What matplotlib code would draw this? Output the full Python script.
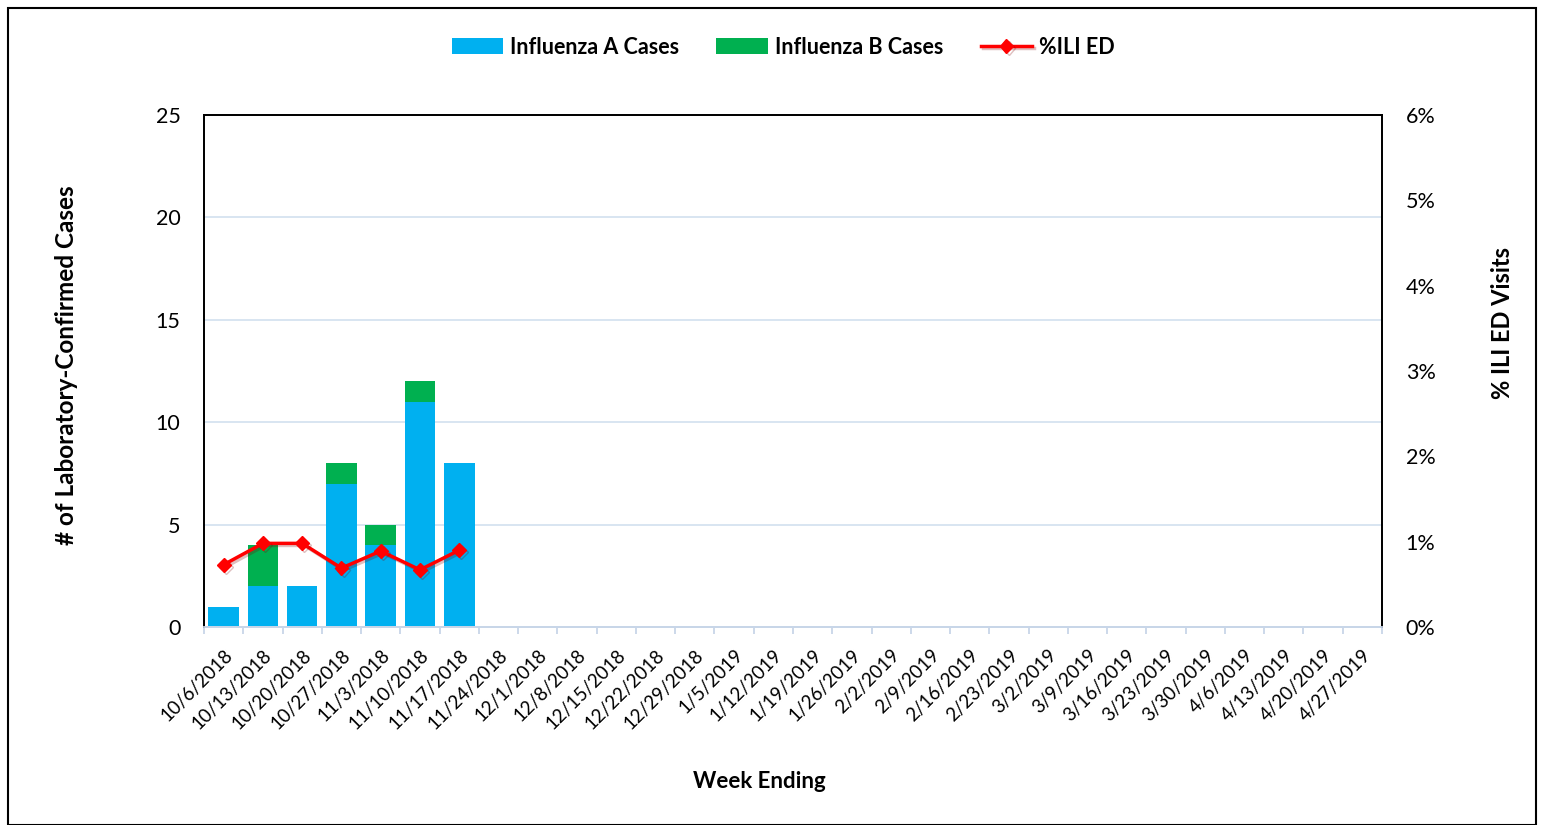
import matplotlib
matplotlib.use("Agg")
import matplotlib.pyplot as plt
import matplotlib.patheffects as pe
from matplotlib.ticker import FuncFormatter, MultipleLocator
from matplotlib.patches import Rectangle
import numpy as np

weeks = ["10/6/2018", "10/13/2018", "10/20/2018", "10/27/2018", "11/3/2018",
         "11/10/2018", "11/17/2018", "11/24/2018", "12/1/2018", "12/8/2018",
         "12/15/2018", "12/22/2018", "12/29/2018", "1/5/2019", "1/12/2019",
         "1/19/2019", "1/26/2019", "2/2/2019", "2/9/2019", "2/16/2019",
         "2/23/2019", "3/2/2019", "3/9/2019", "3/16/2019", "3/23/2019",
         "3/30/2019", "4/6/2019", "4/13/2019", "4/20/2019", "4/27/2019"]
flu_a = [1, 2, 2, 7, 4, 11, 8]
flu_b = [0, 2, 0, 1, 1, 1, 0]
ili_ed = [0.73, 0.98, 0.98, 0.69, 0.89, 0.67, 0.90]

plt.rcParams['font.family'] = ['Lato', 'DejaVu Sans']

fig = plt.figure(figsize=(15.44, 8.25), dpi=100)
ax = fig.add_axes([204/1544, 1-627/825, (1382-204)/1544, (627-115)/825])
ax2 = ax.twinx()

n = len(weeks)
x_all = np.arange(n)
xa = np.arange(len(flu_a))
blue = "#00B0F0"
green = "#00B050"
ax.bar(xa, flu_a, width=0.78, color=blue, label="Influenza A Cases", zorder=2)
ax.bar(xa, flu_b, width=0.78, bottom=flu_a, color=green, label="Influenza B Cases", zorder=2)

ax.set_xlim(-0.5, n - 0.5)
ax.set_ylim(0, 25)
ax.yaxis.set_major_locator(MultipleLocator(5))
ax.grid(axis='y', color="#D6E3F0", linewidth=1.3, zorder=0)
ax.set_axisbelow(True)

ax2.plot(xa, ili_ed, color="#FF0000", linewidth=2.5, marker='D', markersize=7,
         label="%ILI ED", zorder=5,
         path_effects=[pe.SimpleLineShadow(offset=(1.5, -1.5), shadow_color='#800000', alpha=0.25),
                       pe.Normal()])
ax2.set_ylim(0, 6)
ax2.yaxis.set_major_locator(MultipleLocator(1))
ax2.yaxis.set_major_formatter(FuncFormatter(lambda v, p: f"{int(round(v))}%"))
ax2.set_zorder(ax.get_zorder() + 1)
ax2.patch.set_visible(False)

ax.set_xticks(x_all)
ax.set_xticklabels(weeks, rotation=45, ha='right', rotation_mode='anchor', fontsize=13.5)
ax.set_xticks(np.arange(-0.5, n, 1), minor=True)
ax.tick_params(axis='x', which='major', length=0, pad=14)
ax.tick_params(axis='x', which='minor', length=5, color="#C8D6E8", width=1.3)
ax.tick_params(axis='y', length=0, labelsize=15.5, pad=17)
ax2.tick_params(axis='y', length=0, labelsize=15.5, pad=17)

for a in (ax, ax2):
    a.spines['left'].set_color('black')
    a.spines['top'].set_color('black')
    a.spines['right'].set_color('black')
    a.spines['bottom'].set_color('#C8D6E8')
    for s in ('left', 'top', 'right'):
        a.spines[s].set_linewidth(1.3)
    a.spines['bottom'].set_linewidth(1.3)

ax.set_ylabel("# of Laboratory-Confirmed Cases", fontsize=17.5, fontweight='bold')
ax.yaxis.set_label_coords(67/1544, 1 - 365/825, transform=fig.transFigure)
ax2.set_ylabel("% ILI ED Visits", fontsize=17, fontweight='bold')
ax2.yaxis.set_label_coords(1503/1544, 1 - 323/825, transform=fig.transFigure)
ax.set_xlabel("Week Ending", fontsize=16, fontweight='bold')
ax.xaxis.set_label_coords(759/1544, 1 - 781/825, transform=fig.transFigure)
ax.xaxis.label.set_va('center')
ax.yaxis.label.set_va('center')
ax2.yaxis.label.set_va('center')

h1, l1 = ax.get_legend_handles_labels()
h2, l2 = ax2.get_legend_handles_labels()
fig.legend(h1 + h2, l1 + l2, loc='center', bbox_to_anchor=(783/1544, 1 - 47/825), ncol=3,
           frameon=False, prop={'weight': 'bold', 'size': 15.5}, handlelength=2.4,
           handleheight=0.75, columnspacing=1.75, handletextpad=0.3)

fig.patches.append(Rectangle((8/1544, 0), (1536-8)/1544, 1 - 8/825, transform=fig.transFigure,
                             fill=False, edgecolor='black', linewidth=1.5))

fig.savefig("out.png", dpi=100)
